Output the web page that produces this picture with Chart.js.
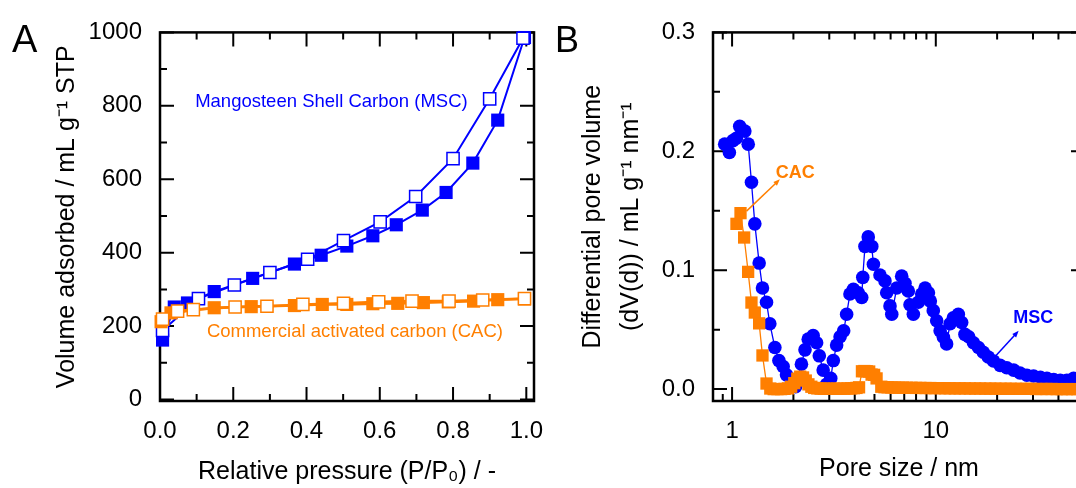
<!DOCTYPE html>
<html>
<head>
<meta charset="utf-8">
<script src="https://cdn.jsdelivr.net/npm/chart.js@4.4.1/dist/chart.umd.min.js"></script>
<style>
  html, body { margin: 0; padding: 0; background: #fff; overflow: hidden; width: 1076px; height: 488px; }
  #wrap { position: relative; width: 1076px; height: 488px; overflow: hidden; background: #fff; }
  canvas { position: absolute; top: 0; }
  #cA { left: 0; }
  #cB { left: 560px; }
  .panel { position: absolute; font-family: 'Liberation Sans', Arial, sans-serif; line-height: 1; color: #000; }
</style>
</head>
<body>
<div id="wrap">
  <canvas id="cA" width="560" height="488"></canvas>
  <canvas id="cB" width="560" height="488"></canvas>
  <div class="panel" style="left:12px;top:20px;font-size:38px;">A</div>
  <div class="panel" style="left:555px;top:22px;font-size:36px;">B</div>
</div>
<script>
// ---------------- Panel A: N2 isotherms ----------------
const pressureTicks = [0, 0.2, 0.4, 0.6, 0.8, 1.0];
const pressureMinor = [0.1, 0.3, 0.5, 0.7, 0.9];
const volumeTicks = [0, 200, 400, 600, 800, 1000];
const volumeMinor = [100, 300, 500, 700, 900];

const mscAdsP = [0.007, 0.039, 0.075, 0.148, 0.253, 0.367, 0.44, 0.51, 0.581, 0.645, 0.716, 0.781, 0.854, 0.922, 0.995];
const mscAdsV = [162, 252, 263, 294, 330, 369, 393, 418, 446, 476, 516, 564, 644, 761, 986];
const mscDesP = [0.991, 0.90, 0.80, 0.698, 0.601, 0.501, 0.403, 0.30, 0.203, 0.105, 0.007];
const mscDesV = [984, 819, 656, 553, 484, 433, 382, 346, 312, 275, 188];

const cacAdsP = [0.003, 0.03, 0.148, 0.249, 0.367, 0.443, 0.51, 0.581, 0.649, 0.719, 0.787, 0.856, 0.922, 0.995];
const cacAdsV = [212, 236, 250, 253, 256, 259, 259, 261, 262, 264, 266, 268, 272, 274];
const cacDesP = [0.995, 0.881, 0.789, 0.688, 0.597, 0.501, 0.39, 0.292, 0.205, 0.091, 0.048, 0.007];
const cacDesV = [275, 271, 268, 268, 266, 262, 259, 254, 252, 245, 241, 219];

// ---------------- Panel B: pore size distributions ----------------
const poreTicks = [1, 10];
const poreMinor = [0.9, 2, 3, 4, 5, 6, 7, 8, 9, 20, 30, 40, 50];
const dvTicks = [0, 0.1, 0.2, 0.3];
const dvMinor = [0.05, 0.15, 0.25];

const poreMSC = [0.92, 0.97, 1.01, 1.05, 1.09, 1.155, 1.20, 1.245, 1.293, 1.358,
  1.41, 1.476, 1.532, 1.622, 1.698, 1.781, 1.85, 1.96, 2.05, 2.19,
  2.28, 2.365, 2.50, 2.60, 2.68, 2.80, 2.91, 3.05, 3.14, 3.26,
  3.39, 3.53, 3.65, 3.79, 3.94, 4.16, 4.33, 4.38, 4.49, 4.66,
  4.85, 4.94, 5.32, 5.63, 5.74, 5.96, 6.08, 6.43, 6.80, 7.06,
  7.33, 7.47, 7.76, 8.21, 8.53, 8.86, 9.2, 9.4, 9.72, 10.1,
  10.5, 10.9, 11.3, 11.75, 12.2, 12.9, 13.4, 13.9, 14.5, 15.3,
  16.2, 17.1, 18.1, 19.2, 20.7, 22.3, 24.1, 25.9, 28.0, 30.2,
  32.6, 35.1, 37.9, 40.8, 44.0, 47.5];
const dvMSC = [0.206, 0.199, 0.209, 0.211, 0.221, 0.217, 0.206, 0.174, 0.139, 0.106,
  0.085, 0.073, 0.055, 0.035, 0.024, 0.019, 0.012, 0.006, 0.002, 0.021,
  0.033, 0.042, 0.045, 0.039, 0.028, 0.016, 0.004, 0.009, 0.024, 0.037,
  0.044, 0.049, 0.063, 0.080, 0.084, 0.081, 0.077, 0.094, 0.120, 0.128,
  0.120, 0.105, 0.096, 0.091, 0.081, 0.070, 0.063, 0.085, 0.095, 0.089,
  0.0825, 0.071, 0.063, 0.073, 0.080, 0.085, 0.081, 0.074, 0.066, 0.0575,
  0.049, 0.0436, 0.038, 0.055, 0.060, 0.063, 0.056, 0.046, 0.044, 0.039,
  0.035, 0.031, 0.027, 0.0236, 0.020, 0.018, 0.016, 0.0136, 0.0117, 0.011,
  0.010, 0.009, 0.008, 0.0075, 0.0075, 0.009];

const poreCAC = [1.051, 1.10, 1.146, 1.199, 1.245, 1.293, 1.358, 1.41, 1.476, 1.54,
  1.60, 1.67, 1.74, 1.81, 1.88, 1.95, 2.02, 2.09, 2.16, 2.23,
  2.30, 2.37, 2.45, 2.53, 2.62, 2.72, 2.82, 2.93, 3.04, 3.16,
  3.28, 3.41, 3.55, 3.69, 3.84, 3.96, 4.08, 4.20, 4.34, 4.46,
  4.58, 4.71, 4.84, 4.98, 5.12, 5.40, 5.60, 5.80, 6.05, 6.3,
  6.6, 6.9, 7.2, 7.6, 8.0, 8.4, 8.9, 9.4, 9.9, 10.5,
  11.1, 11.7, 12.4, 13.1, 13.9, 14.7, 15.6, 16.5, 17.5, 18.5,
  19.6, 20.8, 22.0, 23.3, 24.7, 26.2, 27.7, 29.4, 31.1, 33.0,
  34.9, 37.0, 39.2, 41.5, 44.0, 46.6, 49.4, 52.3];
const dvCAC = [0.139, 0.148, 0.1275, 0.0986, 0.0728, 0.0644, 0.0553, 0.0283, 0.0047, 0.0005,
  0.0000, 0.0000, 0.0000, 0.0002, 0.0006, 0.0020, 0.0050, 0.0088, 0.0105, 0.0098,
  0.0072, 0.0040, 0.0020, 0.0010, 0.0006, 0.0004, 0.0003, 0.0003, 0.0003, 0.0003,
  0.0003, 0.0003, 0.0004, 0.0005, 0.0006, 0.0008, 0.0010, 0.0015, 0.0150, 0.0152,
  0.0150, 0.0148, 0.0122, 0.0120, 0.0090, 0.0020, 0.0016, 0.0015, 0.0014, 0.0013,
  0.0012, 0.0012, 0.0011, 0.0011, 0.0010, 0.0010, 0.0009, 0.0009, 0.0008, 0.0008,
  0.0007, 0.0007, 0.0006, 0.0006, 0.0006, 0.0005, 0.0005, 0.0005, 0.0004, 0.0004,
  0.0004, 0.0003, 0.0003, 0.0003, 0.0002, 0.0002, 0.0002, 0.0002, 0.0001, 0.0001,
  0.0001, 0.0001, 0.0000, 0.0000, 0.0000, 0.0000, 0.0000, 0.0000];

// ---------------- styling ----------------
const BLUE = '#0000ff';
const ORANGE = '#ff7f00';
const FONT = "'Liberation Sans', Arial, Helvetica, sans-serif";
Chart.defaults.font.family = FONT;
Chart.defaults.color = '#000';

const toPts = (xs, ys) => xs.map((x, i) => ({ x: x, y: ys[i] }));

function framePlugin(cfg) {
  return {
    id: 'frameTicks',
    beforeDatasetsDraw(chart) {
      const ctx = chart.ctx, a = chart.chartArea;
      const xs = chart.scales.x, ys = chart.scales.y;
      ctx.save();
      ctx.strokeStyle = '#000';
      ctx.lineWidth = 2;
      ctx.beginPath();
      const vTick = (v, len) => {
        const p = xs.getPixelForValue(v);
        ctx.moveTo(p, a.bottom); ctx.lineTo(p, a.bottom - len);
        ctx.moveTo(p, a.top); ctx.lineTo(p, a.top + len);
      };
      const hTick = (v, len) => {
        const p = ys.getPixelForValue(v);
        ctx.moveTo(a.left, p); ctx.lineTo(a.left + len, p);
        ctx.moveTo(a.right, p); ctx.lineTo(a.right - len, p);
      };
      cfg.xMajor.forEach(v => vTick(v, 14));
      cfg.xMinor.forEach(v => vTick(v, 7));
      cfg.yMajor.forEach(v => hTick(v, 14));
      cfg.yMinor.forEach(v => hTick(v, 7));
      ctx.stroke();
      ctx.lineWidth = 2.5;
      ctx.strokeRect(a.left, a.top, a.right - a.left, a.bottom - a.top);
      ctx.restore();
    }
  };
}

function notesPlugin(cfg) {
  return {
    id: 'notes',
    afterDatasetsDraw(chart) {
      const ctx = chart.ctx;
      const xs = chart.scales.x, ys = chart.scales.y;
      ctx.save();
      (cfg.arrows || []).forEach(ar => {
        const x1 = xs.getPixelForValue(ar.from[0]), y1 = ys.getPixelForValue(ar.from[1]);
        const x2 = xs.getPixelForValue(ar.to[0]), y2 = ys.getPixelForValue(ar.to[1]);
        const ang = Math.atan2(y2 - y1, x2 - x1), h = 7;
        ctx.strokeStyle = ar.color; ctx.fillStyle = ar.color; ctx.lineWidth = 1.5;
        ctx.beginPath(); ctx.moveTo(x1, y1);
        ctx.lineTo(x2 - h * 0.7 * Math.cos(ang), y2 - h * 0.7 * Math.sin(ang)); ctx.stroke();
        ctx.beginPath(); ctx.moveTo(x2, y2);
        ctx.lineTo(x2 - h * Math.cos(ang - 0.38), y2 - h * Math.sin(ang - 0.38));
        ctx.lineTo(x2 - h * Math.cos(ang + 0.38), y2 - h * Math.sin(ang + 0.38));
        ctx.closePath(); ctx.fill();
      });
      (cfg.texts || []).forEach(t => {
        ctx.font = t.font; ctx.fillStyle = t.color;
        ctx.textAlign = 'left'; ctx.textBaseline = 'middle';
        ctx.fillText(t.text, xs.getPixelForValue(t.x), ys.getPixelForValue(t.y));
      });
      ctx.restore();
    }
  };
}

const tickFont = { size: 24, family: FONT };
const titleFont = { size: 25, family: FONT };

// ---------------- Chart A ----------------
new Chart(document.getElementById('cA'), {
  type: 'scatter',
  data: {
    datasets: [
      { label: 'MSC adsorption', data: toPts(mscAdsP, mscAdsV), showLine: true,
        borderColor: BLUE, borderWidth: 2, pointStyle: 'rect', pointRadius: 9.3,
        pointBackgroundColor: BLUE, pointBorderColor: BLUE, pointBorderWidth: 0, order: 4, clip: false },
      { label: 'MSC desorption', data: toPts(mscDesP, mscDesV), showLine: true,
        borderColor: BLUE, borderWidth: 2, pointStyle: 'rect', pointRadius: 8.6,
        pointBackgroundColor: '#fff', pointBorderColor: BLUE, pointBorderWidth: 1.5, order: 3, clip: false },
      { label: 'CAC adsorption', data: toPts(cacAdsP, cacAdsV), showLine: true,
        borderColor: ORANGE, borderWidth: 2.6, pointStyle: 'rect', pointRadius: 9.3,
        pointBackgroundColor: ORANGE, pointBorderColor: ORANGE, pointBorderWidth: 0, order: 2, clip: false },
      { label: 'CAC desorption', data: toPts(cacDesP, cacDesV), showLine: true,
        borderColor: ORANGE, borderWidth: 2.6, pointStyle: 'rect', pointRadius: 8.6,
        pointBackgroundColor: '#fff', pointBorderColor: ORANGE, pointBorderWidth: 1.5, order: 1, clip: false }
    ]
  },
  options: {
    responsive: false, animation: false, devicePixelRatio: 1,
    layout: { padding: { left: 0, top: 27, right: 26, bottom: 0 } },
    plugins: { legend: { display: false }, tooltip: { enabled: false } },
    scales: {
      x: {
        type: 'linear', min: 0, max: 1.021,
        afterBuildTicks: s => { s.ticks = pressureTicks.map(v => ({ value: v })); },
        afterFit: s => { s.height = 87; },
        grid: { display: false, drawTicks: false }, border: { display: false },
        ticks: { padding: 16, font: tickFont, color: '#000', autoSkip: false, maxRotation: 0,
                 callback: v => Number(v).toFixed(1) },
        title: { display: true, text: 'Relative pressure (P/P\u2080) / -', font: titleFont, color: '#000',
                 padding: { top: 0, bottom: 1 } }
      },
      y: {
        type: 'linear', min: -4, max: 1000,
        afterBuildTicks: s => { s.ticks = volumeTicks.map(v => ({ value: v })); },
        afterFit: s => { s.width = 160; },
        grid: { display: false, drawTicks: false }, border: { display: false },
        ticks: { padding: 18, font: tickFont, color: '#000', autoSkip: false, callback: v => String(v) },
        title: { display: true, text: 'Volume adsorbed / mL g\u207B\u00B9 STP', font: titleFont, color: '#000',
                 padding: { top: 52, bottom: 0 } }
      }
    }
  },
  plugins: [
    framePlugin({ xMajor: pressureTicks, xMinor: pressureMinor, yMajor: volumeTicks, yMinor: volumeMinor }),
    notesPlugin({ texts: [
      { text: 'Mangosteen Shell Carbon (MSC)', x: 0.096, y: 812, color: BLUE, font: '18.5px ' + FONT },
      { text: 'Commercial activated carbon (CAC)', x: 0.128, y: 183, color: ORANGE, font: '18.5px ' + FONT }
    ] })
  ]
});

// ---------------- Chart B ----------------
new Chart(document.getElementById('cB'), {
  type: 'scatter',
  data: {
    datasets: [
      { label: 'MSC', data: toPts(poreMSC, dvMSC), showLine: true,
        borderColor: BLUE, borderWidth: 1.3, pointStyle: 'circle', pointRadius: 6.8,
        pointBackgroundColor: BLUE, pointBorderWidth: 0, order: 2, clip: false },
      { label: 'CAC', data: toPts(poreCAC, dvCAC), showLine: true,
        borderColor: ORANGE, borderWidth: 1.3, pointStyle: 'rect', pointRadius: 8.7,
        pointBackgroundColor: ORANGE, pointBorderWidth: 0, order: 1, clip: false }
    ]
  },
  options: {
    responsive: false, animation: false, devicePixelRatio: 1,
    layout: { padding: { left: 0, top: 29, right: 35, bottom: 0 } },
    plugins: { legend: { display: false }, tooltip: { enabled: false } },
    scales: {
      x: {
        type: 'logarithmic', min: 0.806, max: 54,
        afterBuildTicks: s => { s.ticks = poreTicks.map(v => ({ value: v })); },
        afterFit: s => { s.height = 87; },
        grid: { display: false, drawTicks: false }, border: { display: false },
        ticks: { padding: 16, font: tickFont, color: '#000', autoSkip: false, maxRotation: 0,
                 callback: v => String(v) },
        title: { display: true, text: 'Pore size / nm', font: titleFont, color: '#000',
                 padding: { top: 0, bottom: 4 } }
      },
      y: {
        type: 'linear', min: -0.01, max: 0.3,
        afterBuildTicks: s => { s.ticks = dvTicks.map(v => ({ value: v })); },
        afterFit: s => { s.width = 153; },
        grid: { display: false, drawTicks: false }, border: { display: false },
        ticks: { padding: 18, font: tickFont, color: '#000', autoSkip: false, callback: v => Number(v).toFixed(1) },
        title: { display: true, text: ['Differential pore volume', '(dV(d)) / mL g\u207B\u00B9 nm\u207B\u00B9'],
                 font: { size: 25, family: FONT, lineHeight: 1.52 }, color: '#000',
                 padding: { top: 14, bottom: 0 } }
      }
    }
  },
  plugins: [
    framePlugin({ xMajor: poreTicks, xMinor: poreMinor, yMajor: dvTicks, yMinor: dvMinor }),
    notesPlugin({
      texts: [
        { text: 'CAC', x: 1.64, y: 0.1817, color: ORANGE, font: 'bold 18px ' + FONT },
        { text: 'MSC', x: 24.0, y: 0.060, color: BLUE, font: 'bold 18px ' + FONT }
      ],
      arrows: [
        { from: [1.177, 0.1497], to: [1.716, 0.1764], color: ORANGE },
        { from: [19.56, 0.0275], to: [25.5, 0.049], color: BLUE }
      ]
    })
  ]
});
</script>
</body>
</html>
